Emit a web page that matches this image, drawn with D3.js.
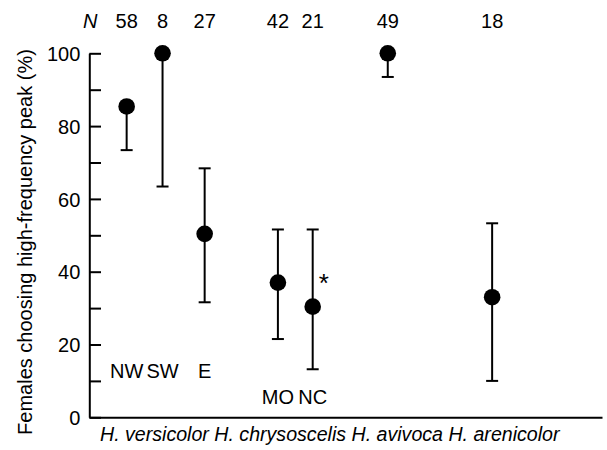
<!DOCTYPE html>
<html>
<head>
<meta charset="utf-8">
<script src="https://cdn.jsdelivr.net/npm/d3@7"></script>
<style>
  body { margin: 0; background: #fff; }
  svg text { font-family: "Liberation Sans", Arial, sans-serif; fill: #000; }
</style>
</head>
<body>
<div id="container"></div>
<script>
// populations, in order left to right
let sites = ["NW", "SW", "E", "MO", "NC", "avivoca", "arenicolor"];
let siteLabels = ["NW", "SW", "E", "MO", "NC", "", ""];
let nValues = [58, 8, 27, 42, 21, 49, 18];
// % females choosing the high-frequency peak, with 95% CI
let pct = [85.4, 100, 50.4, 37, 30.4, 100, 33];
let lower = [73.4, 63.4, 31.6, 21.5, 13.2, 93.5, 10];
let upper = [85.4, 100, 68.4, 51.6, 51.6, 100, 53.3];
// horizontal slot of each population (arbitrary units)
let xSlots = [1.02, 2, 3.15, 5.15, 6.1, 8.15, 11];
let species = ["H. versicolor", "H. chrysoscelis", "H. avivoca", "H. arenicolor"];
let yTicks = [0, 10, 20, 30, 40, 50, 60, 70, 80, 90, 100];

let data = sites.map(function(s, i){
  return {key: s, label: siteLabels[i], n: nValues[i], value: pct[i], lo: lower[i], hi: upper[i], slot: xSlots[i]};
});

let w = 607;
let h = 450;
let fs = 20;

let viz = d3.select("#container")
  .append("svg")
  .attr("width", w)
  .attr("height", h);

let xScale = d3.scaleLinear().domain([0, 14]).range([89.3, 602]);
let yScale = d3.scaleLinear().domain([0, 100]).range([417.3, 53.3]);

// y axis, ticks pointing into the plot, labels only every 20
let yAxis = d3.axisLeft(yScale)
  .tickValues(yTicks)
  .tickSizeInner(-11.7)
  .tickSizeOuter(0)
  .tickPadding(9)
  .tickFormat(d => d % 20 == 0 ? d : "");

let yAxisGroup = viz.append("g")
  .attr("transform", "translate(" + xScale(0) + ",0)")
  .call(yAxis);
yAxisGroup.selectAll("path, line").attr("stroke", "#000").attr("stroke-width", 2);
yAxisGroup.selectAll("text").attr("font-size", fs).attr("font-family", null).attr("dy", "0.36em");

// x axis: plain line
let xAxis = d3.axisBottom(xScale).tickValues([]).tickSizeOuter(0);
let xAxisGroup = viz.append("g")
  .attr("transform", "translate(0," + yScale(0) + ")")
  .call(xAxis);
xAxisGroup.select("path").attr("stroke", "#000").attr("stroke-width", 2);

// axis title
viz.append("text")
  .attr("transform", "translate(32," + 242 + ") rotate(-90)")
  .attr("text-anchor", "middle")
  .attr("font-size", fs)
  .text("Females choosing high-frequency peak (%)");

// N row on top
viz.append("text")
  .attr("x", xScale(0) + 1)
  .attr("y", 28)
  .attr("text-anchor", "middle")
  .attr("font-size", fs)
  .attr("font-style", "italic")
  .text("N");

let graphGroup = viz.append("g").classed("graphGroup", true);

let points = graphGroup.selectAll(".datapoint")
  .data(data, d => d.key)
  .enter()
  .append("g")
  .classed("datapoint", true)
  .attr("transform", d => "translate(" + xScale(d.slot) + ",0)");

points.append("text")
  .attr("y", 28)
  .attr("text-anchor", "middle")
  .attr("font-size", fs)
  .text(d => d.n);

// error bars
points.append("line")
  .attr("y1", d => yScale(d.lo))
  .attr("y2", d => yScale(d.hi))
  .attr("stroke", "#000")
  .attr("stroke-width", 2);

points.filter(d => d.lo < d.value).append("line")
  .attr("x1", -6).attr("x2", 6)
  .attr("y1", d => yScale(d.lo)).attr("y2", d => yScale(d.lo))
  .attr("stroke", "#000").attr("stroke-width", 2);

points.filter(d => d.hi > d.value).append("line")
  .attr("x1", -6).attr("x2", 6)
  .attr("y1", d => yScale(d.hi)).attr("y2", d => yScale(d.hi))
  .attr("stroke", "#000").attr("stroke-width", 2);

points.append("circle")
  .attr("cy", d => yScale(d.value))
  .attr("r", 8.3)
  .attr("fill", "#000");

// population labels, MO and NC sit a row lower
points.append("text")
  .attr("y", (d, i) => i < 3 ? yScale(0) - 39 : yScale(0) - 13)
  .attr("text-anchor", "middle")
  .attr("font-size", fs)
  .text(d => d.label);

// asterisk next to NC
let nc = data.filter(d => d.key == "NC")[0];
viz.append("text")
  .attr("x", xScale(nc.slot) + 11)
  .attr("y", 292)
  .attr("text-anchor", "middle")
  .attr("font-size", 26)
  .text("*");

// species names under the axis
viz.append("text")
  .attr("x", 100)
  .attr("y", 441)
  .attr("font-size", 19.6)
  .attr("font-style", "italic")
  .text(species.join(" "));
</script>
</body>
</html>
